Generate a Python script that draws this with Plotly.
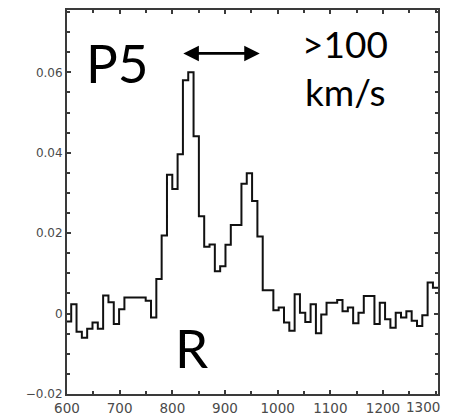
import plotly.graph_objects as go

# Spectrum: channel layout (km/s) and flux per channel
CHANNEL_START = 597.9
CHANNEL_WIDTH = 10.1
flux = [
    -0.0020, 0.0023, -0.0045, -0.0060, -0.0038, -0.0022, -0.0038, 0.0045, 0.0028, -0.0026,
    0.0011, 0.0040, 0.0040, 0.0040, 0.0040, 0.0032, -0.0010, 0.0086, 0.0194, 0.0345,
    0.0310, 0.0396, 0.0580, 0.0600, 0.0441, 0.0242, 0.0166, 0.0172, 0.0105, 0.0118,
    0.0171, 0.0220, 0.0220, 0.0323, 0.0349, 0.0280, 0.0192, 0.0058, 0.0058, 0.0008,
    0.0015, -0.0022, -0.0043, 0.0048, 0.0002, -0.0021, 0.0023, -0.0049, -0.0002, 0.0027,
    0.0027, 0.0034, 0.0006, 0.0015, -0.0024, 0.0002, 0.0044, 0.0044, -0.0026, 0.0027,
    -0.0014, -0.0035, 0.0002, -0.0010, 0.0006, -0.0018, -0.0031, -0.0004, 0.0077, 0.0064,
]

x_ticks = [600, 700, 800, 900, 1000, 1100, 1200]
x_tick_text = ["600", "700", "800", "900", "1000", "1100", "1200"]
y_ticks = [-0.02, 0, 0.02, 0.04, 0.06]
y_tick_text = ["\u22120.02", "0", "0.02", "0.04", "0.06"]

TICK_COLOR = "#4a4a4a"
X_LABEL_SIZE = 13.5

# channel edges for a histogram-style step line
edges = [CHANNEL_START + CHANNEL_WIDTH * k for k in range(len(flux) + 1)]
step_y = flux + [flux[-1]]

fig = go.Figure()
fig.add_trace(go.Scatter(
    x=edges, y=step_y, mode="lines", line_shape="hv",
    line=dict(color="#111111", width=2), hoverinfo="skip", showlegend=False,
))

axis_common = dict(
    showline=True, linewidth=2, linecolor="#3a3a3a", mirror="ticks",
    ticks="inside", ticklen=4, tickwidth=1.5, tickcolor="#3a3a3a",
    showgrid=False, zeroline=False, automargin=False,
)

fig.update_xaxes(
    range=[600, 1304.4], tickvals=x_ticks, ticktext=x_tick_text,
    minor=dict(dtick=50, tick0=600, ticks="inside", ticklen=3, tickcolor="#3a3a3a", tickwidth=1.5),
    tickfont=dict(family="DejaVu Sans", color=TICK_COLOR, size=X_LABEL_SIZE),
    ticklabelstandoff=1,
    **axis_common,
)
fig.update_yaxes(
    range=[-0.02, 0.0755], tickvals=y_ticks, ticktext=y_tick_text,
    minor=dict(dtick=0.005, tick0=0, ticks="inside", ticklen=3, tickcolor="#3a3a3a", tickwidth=1.5),
    tickfont=dict(family="DejaVu Sans", color=TICK_COLOR, size=12),
    **axis_common,
)

# last x label sits inside the frame edge
fig.add_annotation(x=1300, y=0, xref="x", yref="paper", text="1300", showarrow=False,
                   xanchor="center", yanchor="top", xshift=-13, yshift=-3,
                   font=dict(family="DejaVu Sans", color=TICK_COLOR, size=X_LABEL_SIZE))

label_font = dict(family="Lato", color="black")
fig.add_annotation(x=696, y=0.0625, text="P5", showarrow=False,
                   font=dict(size=53, **label_font), xanchor="center", yanchor="middle")
fig.add_annotation(x=837, y=-0.0084, text="R", showarrow=False,
                   font=dict(size=53, **label_font), xanchor="center", yanchor="middle")
fig.add_annotation(x=1127, y=0.0672, text="&gt;100", showarrow=False,
                   font=dict(size=37, **label_font), xanchor="center", yanchor="middle")
fig.add_annotation(x=1128, y=0.0553, text="km/s", showarrow=False,
                   font=dict(size=37, **label_font), xanchor="center", yanchor="middle")

# double-headed arrow marking the velocity separation
fig.add_annotation(x=966, y=0.0647, ax=818, ay=0.0647, xref="x", yref="y",
                   axref="x", ayref="y", text="", showarrow=True,
                   arrowhead=2, startarrowhead=2, arrowside="end+start",
                   arrowsize=1.15, startarrowsize=1.15, arrowwidth=2.7, arrowcolor="black")

fig.update_layout(
    width=452, height=415,
    margin=dict(l=66.7, r=14.3, t=10, b=20.7),
    paper_bgcolor="white", plot_bgcolor="white",
)

fig.write_html("out.html")
